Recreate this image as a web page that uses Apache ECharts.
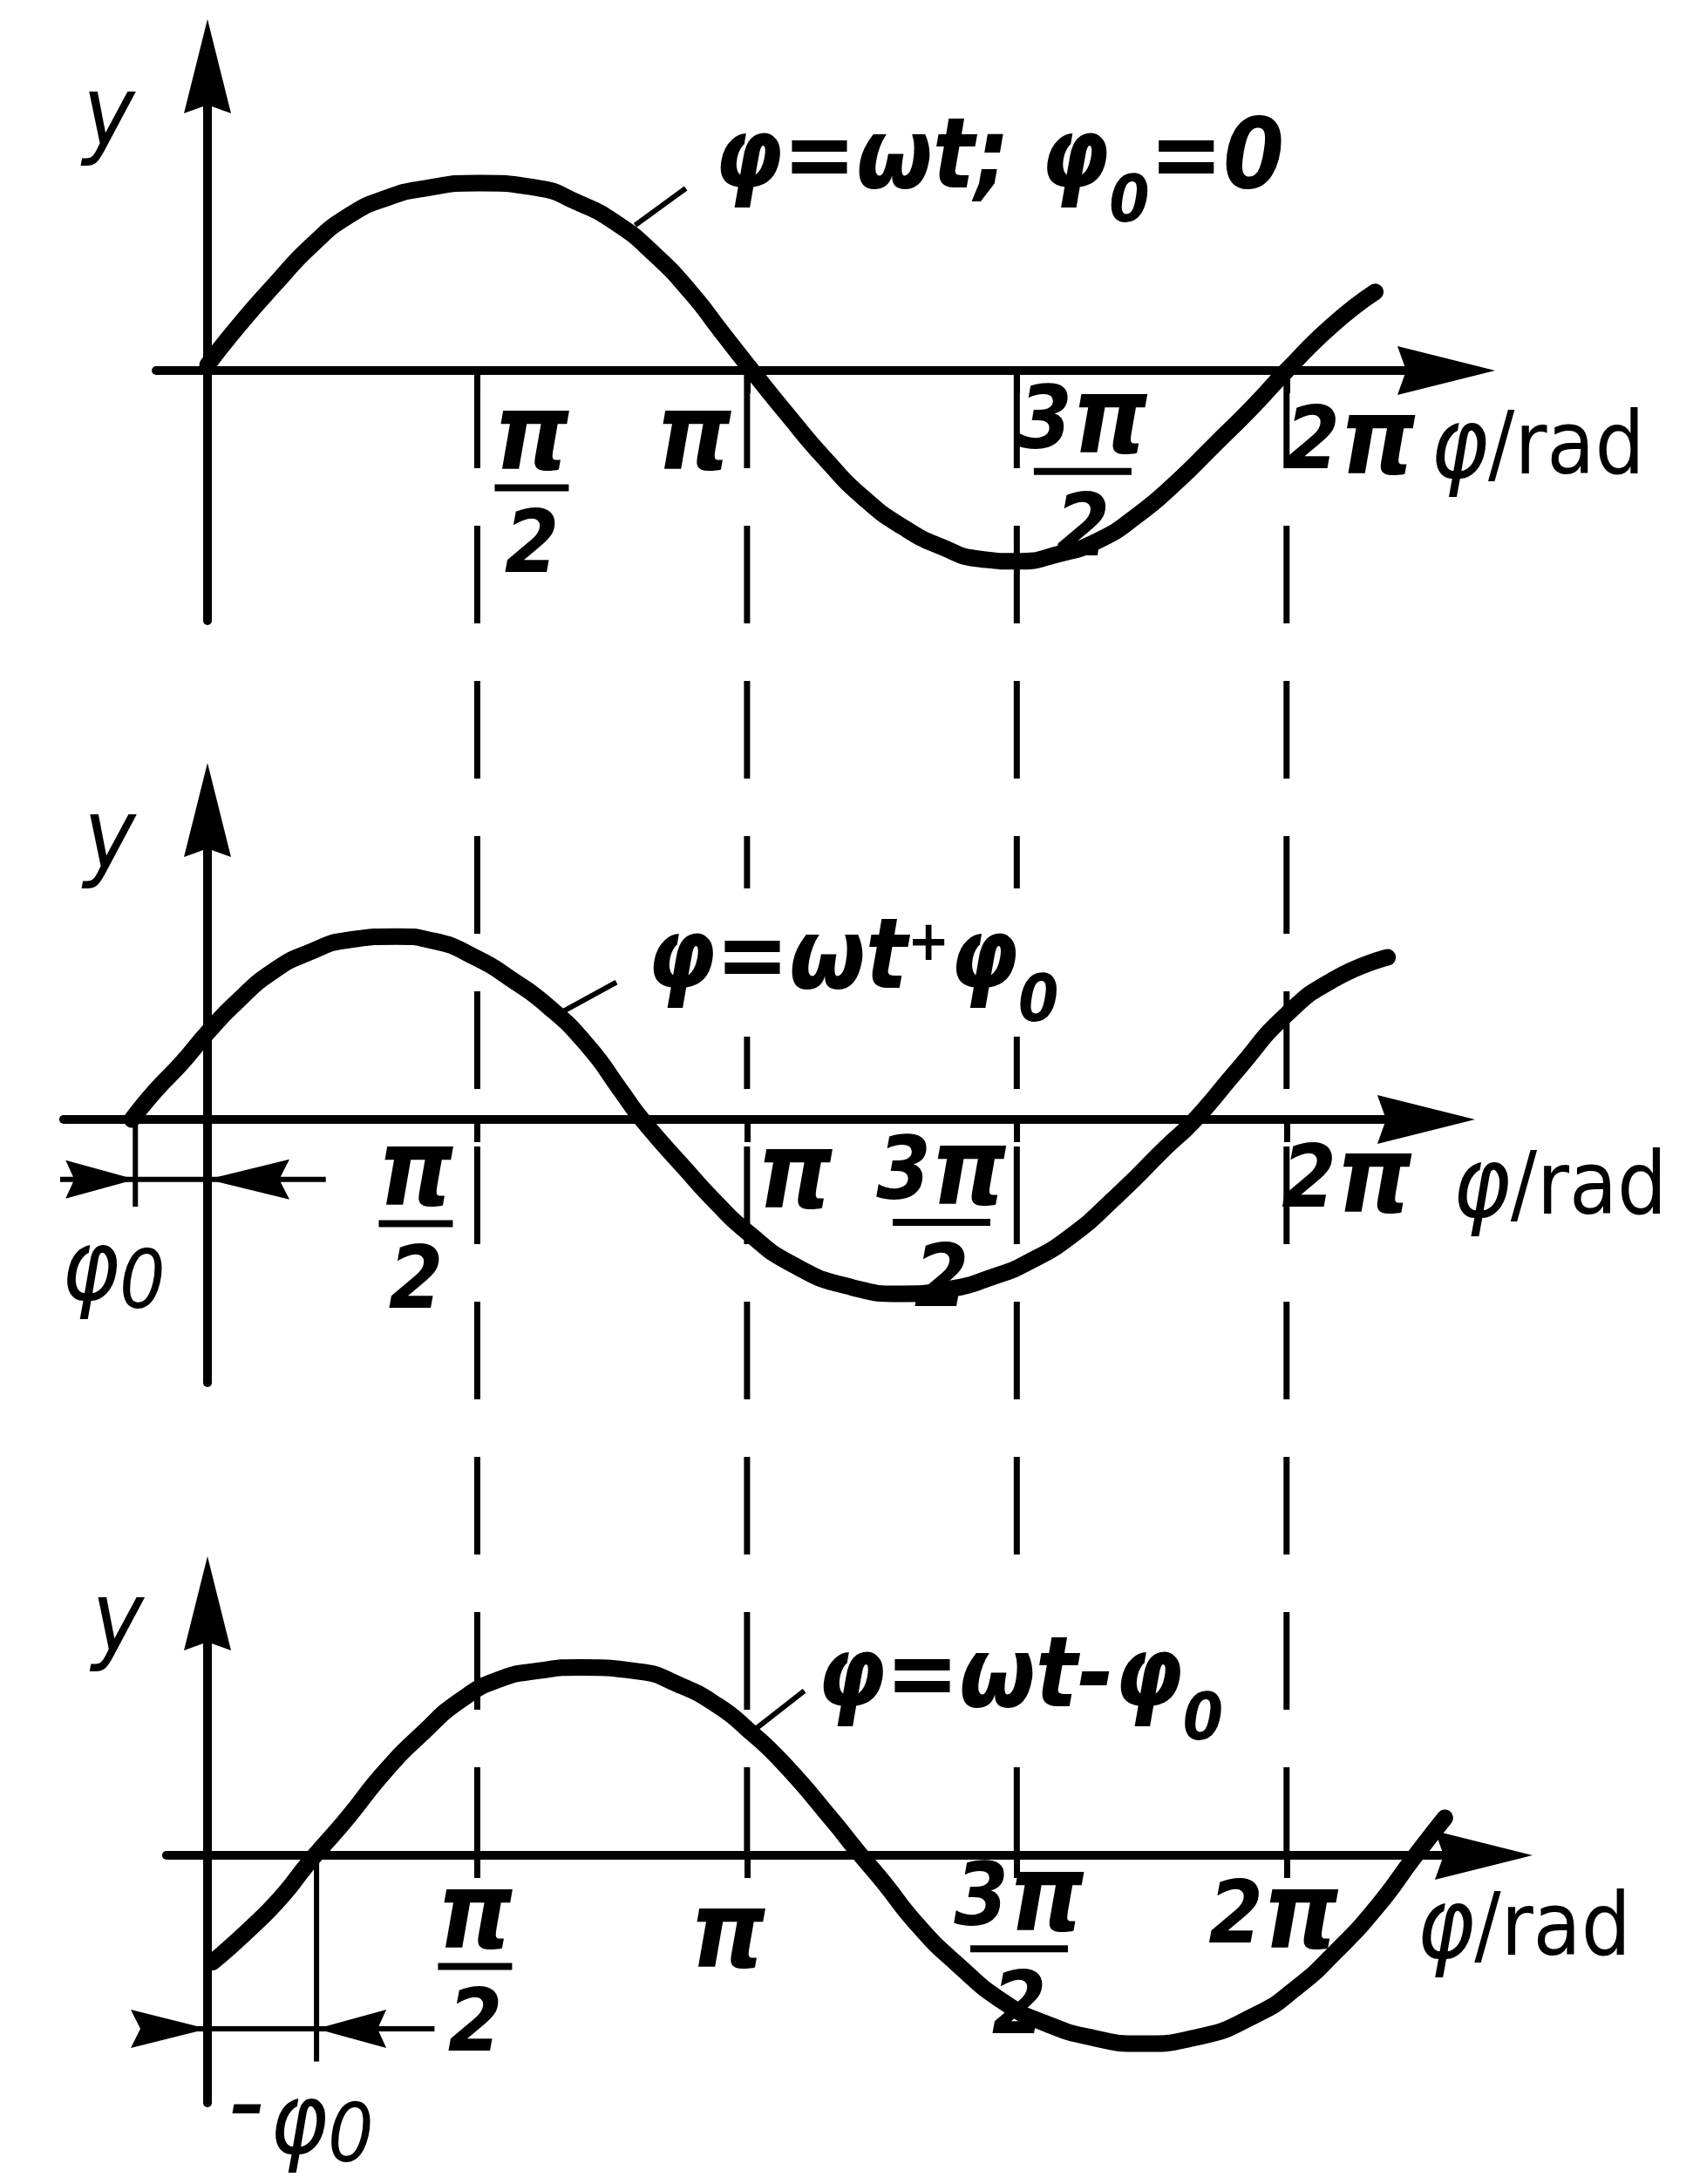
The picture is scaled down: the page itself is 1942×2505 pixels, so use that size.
<!DOCTYPE html>
<html><head><meta charset="utf-8">
<script src="https://cdn.jsdelivr.net/npm/echarts@6/dist/echarts.min.js"></script>
<style>html,body{margin:0;padding:0;background:#fff}#c{width:1942px;height:2505px}</style>
</head><body><div id="c"></div>
<script>
// ================= DATA =================
const PI = Math.PI;
const tickValues = [PI / 2, PI, 3 * PI / 2, 2 * PI];
const tickLabels = ['π/2', 'π', '3π/2', '2π'];
const axisNameX = 'φ/rad';
const axisNameY = 'y';
const annotations = ['φ=ωt; φ0=0', 'φ=ωt+φ0', 'φ=ωt-φ0'];
const phaseLabels = ['φ0', '-φ0'];

// curve points [phase (rad), y]
const curveTop = [[0,0.03],[0.179,0.237],[0.396,0.463],[0.609,0.670],[0.826,0.828],[1.044,0.921],[1.257,0.970],[1.581,1.0],[1.922,0.974],[2.151,0.898],[2.374,0.79],[2.603,0.62],[2.82,0.41],[2.99,0.21],[3.17,0],[3.377,-0.235],[3.6,-0.475],[3.827,-0.685],[4.051,-0.836],[4.275,-0.941],[4.501,-1.006],[4.712,-1.018],[4.956,-0.979],[5.184,-0.908],[5.411,-0.775],[5.637,-0.600],[5.865,-0.395],[6.091,-0.189],[6.283,0],[6.552,0.244],[6.80,0.42]];
const curveMiddle = [[-0.44,0],[-0.304,0.153],[-0.152,0.299],[0,0.463],[0.172,0.628],[0.387,0.794],[0.603,0.895],[0.819,0.957],[1.100,0.976],[1.315,0.953],[1.571,0.859],[1.759,0.754],[1.989,0.599],[2.219,0.388],[2.403,0.159],[2.53,0],[2.788,-0.27],[2.958,-0.44],[3.142,-0.60],[3.410,-0.775],[3.750,-0.895],[4.034,-0.930],[4.315,-0.906],[4.599,-0.831],[4.768,-0.767],[5.019,-0.628],[5.301,-0.402],[5.582,-0.148],[5.751,0],[6.002,0.27],[6.283,0.56],[6.564,0.75],[6.872,0.865]];
const curveBottom = [[0.03,-0.57],[0.254,-0.386],[0.433,-0.219],[0.587,-0.042],[0.811,0.195],[1.033,0.447],[1.254,0.653],[1.478,0.830],[1.704,0.94],[1.934,0.985],[2.166,1.002],[2.511,0.981],[2.737,0.913],[2.969,0.800],[3.142,0.674],[3.356,0.488],[3.647,0.178],[3.779,0.028],[3.937,-0.144],[4.122,-0.358],[4.358,-0.575],[4.648,-0.790],[4.884,-0.898],[5.148,-0.972],[5.439,-1.005],[5.755,-0.972],[6.098,-0.854],[6.336,-0.71],[6.574,-0.51],[6.811,-0.273],[7.023,-0.014],[7.205,0.200]];
// phase shift markers (rad)
const phi0Middle = -0.42;
const phi0Bottom = 0.635;

// ================= LAYOUT =================
const X0 = 238, XS = 197, YS = 215;   // px of phase 0, px per rad, px per y unit
const panels = [
  {axisY: 425,  xMin: -0.299, xMax: 7.213, yMin: -1.335, yMax: 1.623},
  {axisY: 1284, xMin: -0.838, xMax: 7.096, yMin: -1.405, yMax: 1.651},
  {axisY: 2128, xMin: -0.239, xMax: 7.431, yMin: -1.321, yMax: 1.344}
];
// label anchors per panel: [y-name, annotation, tick1..4, x-name]
const labelAt = [
  [[-0.574,1.335],[2.929,1.110],[1.888,-0.707],[2.832,-0.380],[5.096,-0.62],[6.655,-0.40],[7.120,-0.43]],
  [[-0.569,1.474],[2.538,0.837],[1.213,-0.637],[3.421,-0.321],[4.274,-0.63],[6.635,-0.345],[7.250,-0.38]],
  [[-0.523,1.223],[3.528,0.930],[1.558,-0.674],[3.030,-0.447],[4.726,-0.58],[6.208,-0.345],[7.040,-0.41]]
];
const leaders = [
  [[2.785,0.972],[2.490,0.775]],
  [[2.381,0.732],[2.070,0.576]],
  [[3.475,0.877],[3.199,0.68]]
];

const F = "'DejaVu Sans Condensed','DejaVu Sans',sans-serif";
const BI = {fontFamily: F, fontWeight: 'bold', fontStyle: 'italic', color: '#000'};
const rich = {
  p: Object.assign({}, BI, {fontSize: 122, lineHeight: 90}),
  g: Object.assign({}, BI, {fontSize: 100, lineHeight: 90}),
  d: Object.assign({}, BI, {fontSize: 100, lineHeight: 125}),
  b: {width: 85, height: 8, lineHeight: 16, backgroundColor: '#000'},
  b3: {width: 112, height: 8, lineHeight: 16, backgroundColor: '#000'},
  a: Object.assign({}, BI, {fontSize: 112}),
  s: Object.assign({}, BI, {fontSize: 74, padding: [96, 0, 0, 0]}),
  sp: Object.assign({}, BI, {fontSize: 64, padding: [0, 0, 40, 0]}),
  f: Object.assign({}, BI, {fontSize: 112, fontWeight: 'normal'}),
  s2: Object.assign({}, BI, {fontSize: 92, fontWeight: 'normal', padding: [30, 0, 0, 0]}),
  m: Object.assign({}, BI, {fontSize: 130, fontWeight: 'normal', padding: [0, 6, 40, 0]}),
  r: {fontFamily: F, fontSize: 100, color: '#000'},
  y: {fontFamily: F, fontSize: 112, fontStyle: 'italic', color: '#000'}
};

function tok(s) {
  let out = '';
  for (const ch of s) out += (ch === 'π') ? '{p|π}' : '{g|' + ch + '}';
  return out;
}
function tickText(label) {
  if (label.indexOf('/') >= 0) {
    const parts = label.split('/');
    const bar = parts[0].length > 1 ? 'b3' : 'b';
    return tok(parts[0]) + '\n{' + bar + '| }\n{d|' + parts[1] + '}';
  }
  return tok(label);
}
function annot(s) {
  let out = '', buf = '';
  const flush = () => { if (buf) { out += '{a|' + buf + '}'; buf = ''; } };
  for (let i = 0; i < s.length; i++) {
    const ch = s[i];
    if (ch === 'φ' && s[i + 1] === '0') { buf += 'φ'; flush(); out += '{s|0}'; i++; }
    else if (ch === '+') { flush(); out += '{sp|+}'; }
    else buf += ch;
  }
  flush();
  return out;
}
function phaseText(s) {
  let out = '';
  for (const ch of s) out += ch === '-' ? '{m|-}' : ch === 'φ' ? '{f|φ}' : '{s2|' + ch + '}';
  return out;
}
function axisNameText(s) {
  return '{f|' + s[0] + '}{r|' + s.slice(1) + '}';
}

const AX_ARROW = 'path://M50,0 L100,200 L50,182 L0,200 Z';
const ARR_R = 'path://M0,0 L200,50 L0,100 L25,50 Z';
const ARR_L = 'path://M200,0 L0,50 L200,100 L175,50 Z';
const LBL = {show: true, position: 'inside', color: '#000', opacity: 1, rich: rich};

const grids = [], xAxes = [], yAxes = [], series = [];
const curves = [curveTop, curveMiddle, curveBottom];

panels.forEach((p, i) => {
  grids.push({left: X0 + p.xMin * XS, top: p.axisY - p.yMax * YS,
    width: (p.xMax - p.xMin) * XS, height: (p.yMax - p.yMin) * YS, containLabel: false});
  xAxes.push({gridIndex: i, type: 'value', min: p.xMin, max: p.xMax,
    axisLine: {show: true, onZero: true, lineStyle: {color: '#000', width: 10},
      symbol: ['none', AX_ARROW], symbolSize: [58, 112]},
    axisTick: {show: true, customValues: tickValues, length: 26, lineStyle: {color: '#000', width: 7}},
    axisLabel: {show: false}, splitLine: {show: false}});
  yAxes.push({gridIndex: i, type: 'value', min: p.yMin, max: p.yMax,
    axisLine: {show: true, onZero: true, lineStyle: {color: '#000', width: 10},
      symbol: ['none', AX_ARROW], symbolSize: [54, 112]},
    axisTick: {show: false}, axisLabel: {show: false}, splitLine: {show: false}});

  series.push({type: 'line', xAxisIndex: i, yAxisIndex: i, data: curves[i], smooth: 0.55,
    symbol: 'none', clip: false, z: 5,
    lineStyle: {color: '#000', width: 19, cap: 'round', join: 'round'}});
  series.push({type: 'line', xAxisIndex: i, yAxisIndex: i, data: leaders[i], symbol: 'none',
    clip: false, z: 4, lineStyle: {color: '#000', width: 6}});

  const la = labelAt[i];
  const items = [];
  items.push({value: la[0], label: {formatter: '{y|' + axisNameY + '}'}});
  items.push({value: la[1], label: {formatter: annot(annotations[i]), align: 'left',
    backgroundColor: '#fff', padding: [0, 4]}});
  tickLabels.forEach((t, k) => items.push({value: la[2 + k], label: {formatter: tickText(t)}}));
  items.push({value: la[6], label: {formatter: axisNameText(axisNameX), align: 'left'}});
  series.push({type: 'scatter', xAxisIndex: i, yAxisIndex: i, symbolSize: 0, clip: false, z: 6,
    itemStyle: {opacity: 1}, data: items, label: LBL});
});

// phase-shift markers, middle panel
series.push({type: 'line', xAxisIndex: 1, yAxisIndex: 1, symbol: 'none', clip: false,
  data: [[phi0Middle, 0], [phi0Middle, -0.465]], lineStyle: {color: '#000', width: 6}});
series.push({type: 'line', xAxisIndex: 1, yAxisIndex: 1, symbol: 'none', clip: false,
  data: [[-1.0, -0.32], [0.689, -0.32]], lineStyle: {color: '#000', width: 6}});
series.push({type: 'scatter', xAxisIndex: 1, yAxisIndex: 1, clip: false, z: 6,
  itemStyle: {color: '#000', opacity: 1},
  data: [
    {value: [phi0Middle - 40 / XS, -0.32], symbol: ARR_R, symbolSize: [80, 44]},
    {value: [47 / XS, -0.32], symbol: ARR_L, symbolSize: [94, 46]},
    {value: [-0.548, -0.823], symbolSize: 0, label: Object.assign({formatter: phaseText(phaseLabels[0])}, LBL)}
  ]});
// phase-shift markers, bottom panel
series.push({type: 'line', xAxisIndex: 2, yAxisIndex: 2, symbol: 'none', clip: false,
  data: [[phi0Bottom, 0], [phi0Bottom, -1.10]], lineStyle: {color: '#000', width: 6}});
series.push({type: 'line', xAxisIndex: 2, yAxisIndex: 2, symbol: 'none', clip: false,
  data: [[-0.582, -0.925], [1.322, -0.925]], lineStyle: {color: '#000', width: 6}});
series.push({type: 'scatter', xAxisIndex: 2, yAxisIndex: 2, clip: false, z: 6,
  itemStyle: {color: '#000', opacity: 1},
  data: [
    {value: [-44 / XS, -0.925], symbol: ARR_R, symbolSize: [88, 44]},
    {value: [phi0Bottom + 40 / XS, -0.925], symbol: ARR_L, symbolSize: [80, 44]},
    {value: [0.543, -1.451], symbolSize: 0, label: Object.assign({formatter: phaseText(phaseLabels[1])}, LBL)}
  ]});

// dashed guide lines through all panels
grids.push({left: X0, width: 2 * PI * XS, top: panels[0].axisY,
  height: panels[2].axisY - panels[0].axisY, containLabel: false});
xAxes.push({gridIndex: 3, type: 'value', min: 0, max: 2 * PI, show: false});
yAxes.push({gridIndex: 3, type: 'value', min: 0, max: 1, show: false});
tickValues.forEach(t => series.push({type: 'line', xAxisIndex: 3, yAxisIndex: 3, symbol: 'none',
  clip: false, z: 1, data: [[t, 1], [t, 0]],
  lineStyle: {color: '#000', width: 7, type: [112, 66]}}));

const chart = echarts.init(document.getElementById('c'), null, {renderer: 'canvas', width: 1942, height: 2505});
chart.setOption({
  backgroundColor: '#fff', animation: false,
  grid: grids, xAxis: xAxes, yAxis: yAxes, series: series
});
</script></body></html>
